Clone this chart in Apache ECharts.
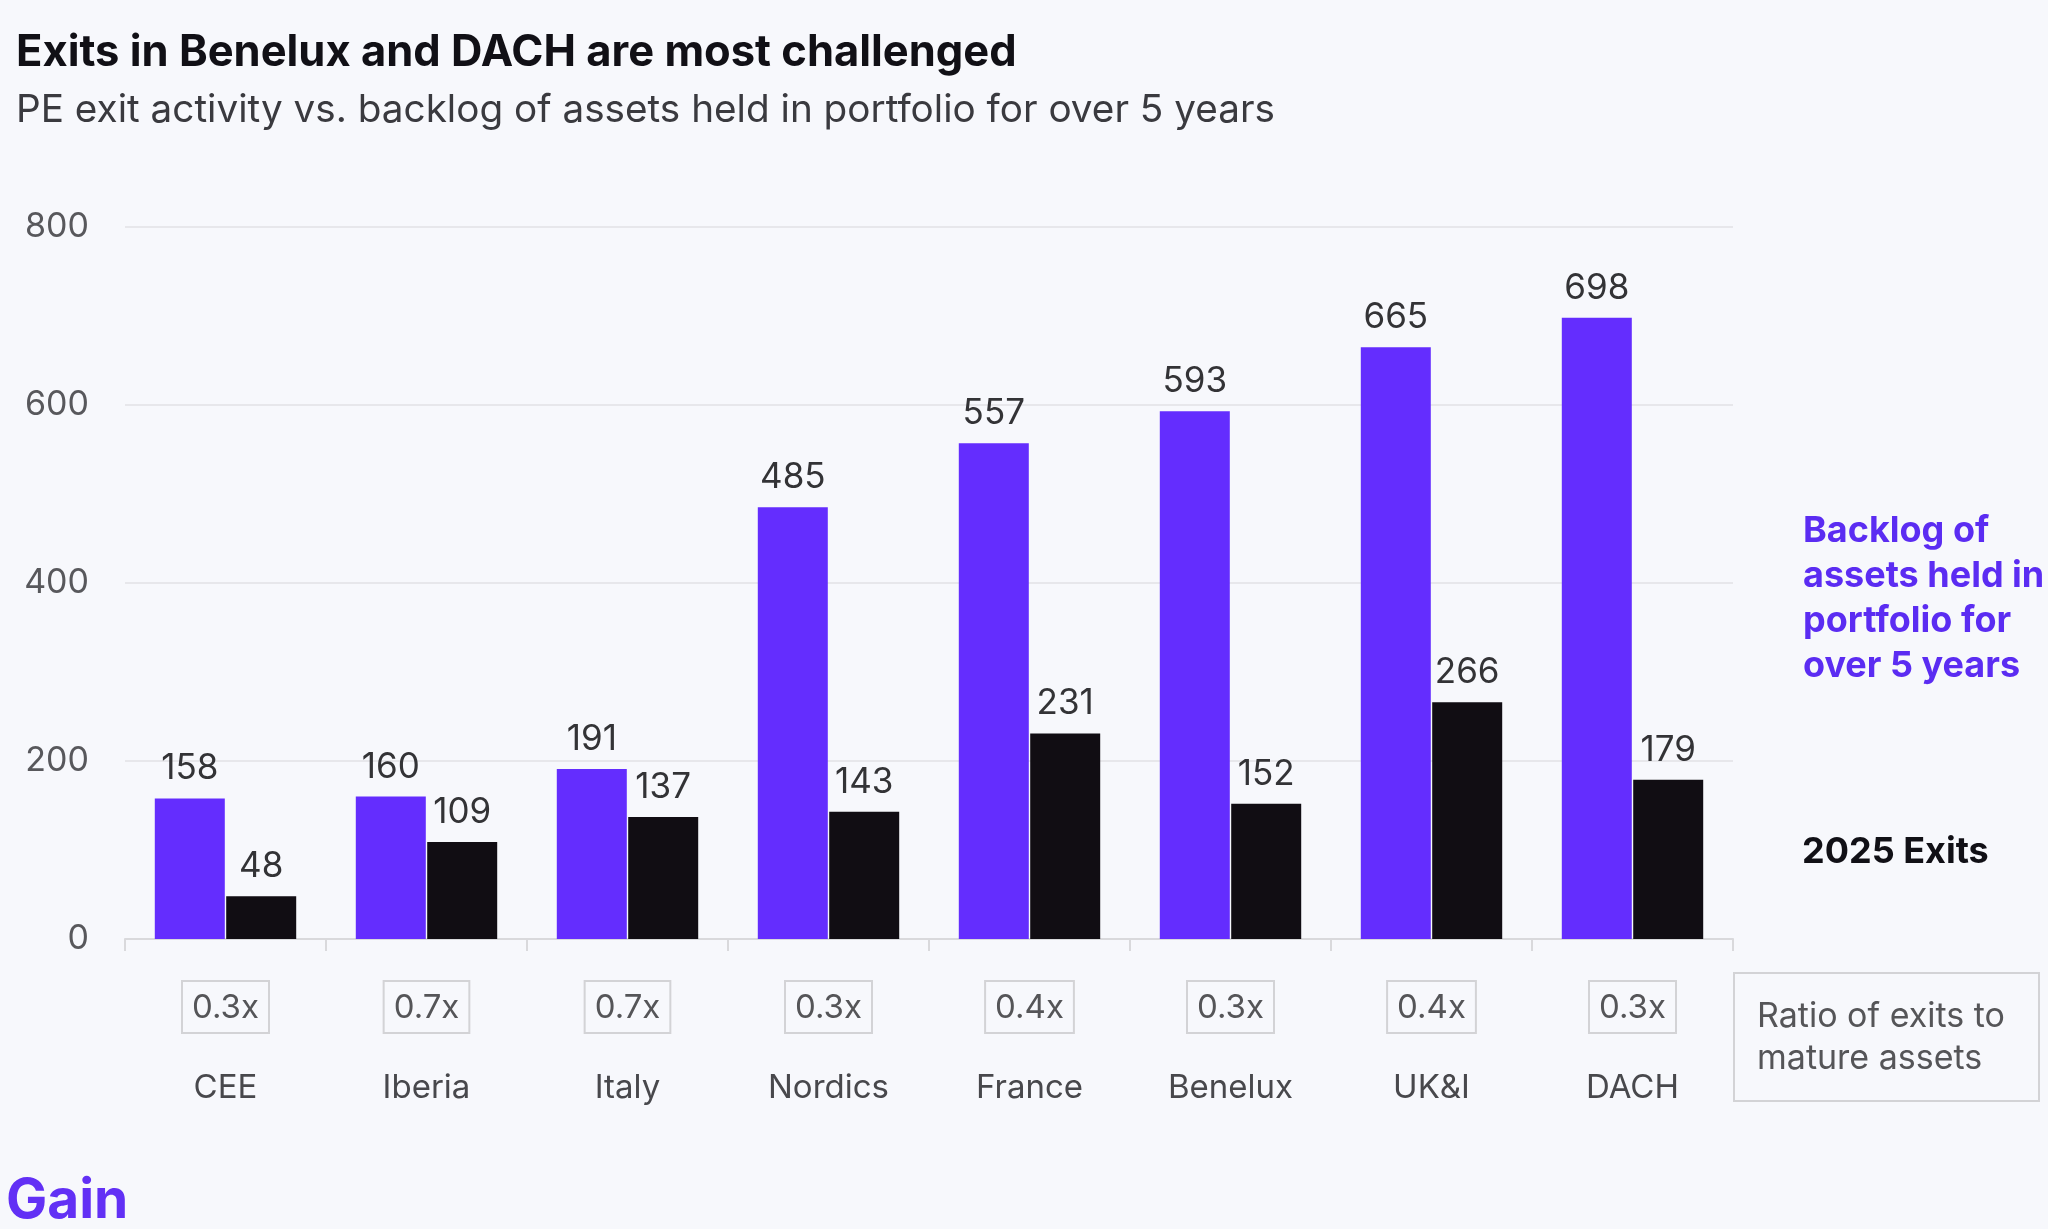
<!DOCTYPE html>
<html>
<head>
<meta charset="utf-8">
<style>
html,body{margin:0;padding:0;background:#f7f8fc;}
#chart{width:2048px;height:1229px;}
</style>
<script src="https://cdn.jsdelivr.net/npm/echarts@6/dist/echarts.min.js"></script>
</head>
<body>
<div id="chart"></div>
<script>
const categories = ["CEE", "Iberia", "Italy", "Nordics", "France", "Benelux", "UK&I", "DACH"];
const backlog = [158, 160, 191, 485, 557, 593, 665, 698];
const exits2025 = [48, 109, 137, 143, 231, 152, 266, 179];
const ratios = ["0.3x", "0.7x", "0.7x", "0.3x", "0.4x", "0.3x", "0.4x", "0.3x"];
const yTicks = [0, 200, 400, 600, 800];

const PURPLE = "#642dfe";
const BLACK = "#110d13";
const FONT = "Inter, 'Noto Sans', sans-serif";

const chart = echarts.init(document.getElementById('chart'));
chart.setOption({
  backgroundColor: "#f7f8fc",
  textStyle: { fontFamily: FONT },
  title: [
    { text: "Exits in Benelux and DACH are most challenged", left: 11, top: 26,
      textStyle: { fontFamily: FONT, fontSize: 43.5, fontWeight: 700, color: "#111016" } },
    { text: "PE exit activity vs. backlog of assets held in portfolio for over 5 years", left: 11, top: 86,
      textStyle: { fontFamily: FONT, fontSize: 38.7, fontWeight: 400, color: "#3a3a3f" } }
  ],
  grid: { left: 125, right: 2048 - 1733, top: 227, bottom: 1229 - 939, containLabel: false },
  xAxis: [
    { type: "category", data: categories,
      axisLine: { lineStyle: { color: "#d9d9dc", width: 2 } },
      axisTick: { show: true, length: 12, lineStyle: { color: "#d9d9dc", width: 2 } },
      axisLabel: { margin: 42, formatter: (v, i) => ratios[i],
        fontFamily: FONT, fontSize: 33, color: "#555558",
        borderColor: "#d3d3d6", borderWidth: 2, padding: [9, 10, 7, 10], lineHeight: 36 } },
    { type: "category", data: categories, position: "bottom",
      axisLine: { show: false }, axisTick: { show: false },
      axisLabel: { margin: 133, fontFamily: FONT, fontSize: 33, color: "#48484c" } }
  ],
  yAxis: {
    type: "value", min: yTicks[0], max: yTicks[yTicks.length - 1], interval: 200,
    axisLine: { show: false }, axisTick: { show: false },
    splitLine: { lineStyle: { color: "#e2e2e6", width: 1.5 } },
    axisLabel: { margin: 36, fontFamily: FONT, fontSize: 34, color: "#58585c", padding: [4, 0, 0, 0] }
  },
  series: [
    { name: "Backlog", type: "bar", data: backlog, barWidth: 70, barGap: "2%",
      itemStyle: { color: PURPLE },
      label: { show: true, position: "top", distance: 12, fontFamily: FONT, fontSize: 35, color: "#333336" } },
    { name: "2025 Exits", type: "bar", data: exits2025, barWidth: 70,
      itemStyle: { color: BLACK },
      label: { show: true, position: "top", distance: 12, fontFamily: FONT, fontSize: 35, color: "#333336" } }
  ],
  graphic: [
    { type: "text", left: 1803, top: 509,
      style: { text: "Backlog of\nassets held in\nportfolio for\nover 5 years", fontFamily: FONT, fontSize: 36, fontWeight: 700,
        lineHeight: 45, fill: "#5b2cf2" } },
    { type: "text", left: 1802, top: 834,
      style: { text: "2025 Exits", fontFamily: FONT, fontSize: 36, fontWeight: 700, fill: "#111016" } },
    { type: "rect", left: 1733, top: 972,
      shape: { width: 305, height: 128 },
      style: { fill: "transparent", stroke: "#d3d3d6", lineWidth: 2 } },
    { type: "text", left: 1757, top: 996,
      style: { text: "Ratio of exits to\nmature assets", fontFamily: FONT, fontSize: 34, lineHeight: 42, fill: "#555558" } },
    { type: "text", left: 6, top: 1174,
      style: { text: "Gain", fontFamily: FONT, fontSize: 55, fontWeight: 700, fill: "#6230f5" } }
  ]
});
</script>
</body>
</html>
